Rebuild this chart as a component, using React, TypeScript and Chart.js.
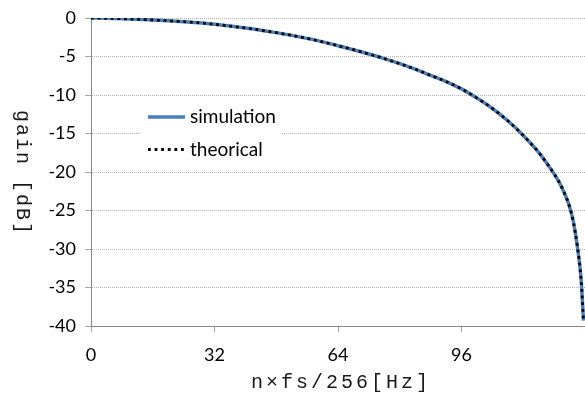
import React, { useEffect, useRef } from 'react';
import { Chart, registerables } from 'chart.js';

Chart.register(...registerables);

// n (×fs/256 Hz)
const nValues = [0, 4, 8, 12, 16, 20, 24, 28, 32, 36, 40, 44, 48, 52, 56, 60, 64, 68, 72, 76, 80, 84, 88, 92, 96, 100, 104, 108, 112, 116, 118, 120, 122, 124, 125, 126, 127, 127.6];
// gain [dB]
const simulationGain = [0, -0.03, -0.09, -0.17, -0.26, -0.36, -0.48, -0.63, -0.82, -1.05, -1.3, -1.58, -1.9, -2.26, -2.65, -3.1, -3.6, -4.12, -4.68, -5.28, -5.93, -6.65, -7.45, -8.25, -9.2, -10.4, -11.75, -13.35, -15.25, -17.45, -18.8, -20.25, -22.0, -24.5, -26.5, -29.6, -34.0, -39.3];
const theoricalGain = [0, -0.03, -0.09, -0.17, -0.26, -0.36, -0.48, -0.63, -0.82, -1.05, -1.3, -1.58, -1.9, -2.26, -2.65, -3.1, -3.6, -4.12, -4.68, -5.28, -5.93, -6.65, -7.45, -8.25, -9.2, -10.4, -11.75, -13.35, -15.25, -17.45, -18.8, -20.25, -22.0, -24.5, -26.5, -29.6, -34.0, -39.3];

const seriesNames = ['simulation', 'theorical'];
const xTickValues = [0, 32, 64, 96, 128];
const xAxisTitle = 'n×fs/256[Hz]';
const yAxisTitle = 'gain [dB]';

const TICK_FONT = { family: 'Lato', size: 18 };
const MONO = 'Liberation Mono';
const BLUE = '#4A7EBB';

const insideLegend = {
  id: 'insideLegend',
  afterDatasetsDraw(chart: any) {
    const ctx = chart.ctx;
    ctx.save();
    ctx.fillStyle = '#ffffff';
    ctx.fillRect(140, 100, 142, 66);
    const rows = [
      { y: 117, ds: chart.data.datasets[0] },
      { y: 149.5, ds: chart.data.datasets[1] },
    ];
    rows.forEach((r) => {
      ctx.save();
      ctx.strokeStyle = r.ds.borderColor;
      ctx.lineWidth = r.ds.borderWidth;
      ctx.setLineDash(r.ds.borderDash || []);
      ctx.beginPath();
      ctx.moveTo(148, r.y);
      ctx.lineTo(185, r.y);
      ctx.stroke();
      ctx.restore();
      ctx.fillStyle = '#000';
      ctx.font = '19px Lato';
      ctx.textBaseline = 'middle';
      ctx.textAlign = 'left';
      ctx.fillText(r.ds.label, 190, r.y);
    });
    ctx.restore();
  },
};

const axisTitles = {
  id: 'axisTitles',
  afterDraw(chart: any) {
    const ctx = chart.ctx;
    const area = chart.chartArea;
    ctx.save();
    ctx.fillStyle = '#1a1a1a';
    ctx.font = `20px "${MONO}"`;
    ctx.textBaseline = 'middle';
    ctx.textAlign = 'center';
    (ctx as any).letterSpacing = '3px';
    ctx.fillText(xAxisTitle, (area.left + area.right) / 2 + 3, 383);
    (ctx as any).letterSpacing = '2px';
    ctx.translate(22, (area.top + area.bottom) / 2);
    ctx.rotate(Math.PI / 2);
    ctx.fillText(yAxisTitle, 1, 0);
    ctx.restore();
  },
};

export default function App() {
  const ref = useRef<HTMLCanvasElement>(null);
  useEffect(() => {
    document.body.style.margin = '0';
    const simPts = nValues.map((x, i) => ({ x, y: simulationGain[i] }));
    const thPts = nValues.map((x, i) => ({ x, y: theoricalGain[i] }));
    const chart = new Chart(ref.current!, {
      type: 'line',
      data: {
        datasets: [
          {
            label: seriesNames[0],
            data: simPts,
            borderColor: BLUE,
            borderWidth: 3.5,
            pointRadius: 0,
            cubicInterpolationMode: 'monotone',
            order: 2,
          },
          {
            label: seriesNames[1],
            data: thPts,
            borderColor: '#000000',
            borderWidth: 2.8,
            borderDash: [2.8, 3.8],
            borderCapStyle: 'butt',
            pointRadius: 0,
            cubicInterpolationMode: 'monotone',
            order: 1,
          },
        ],
      },
      options: {
        animation: false,
        responsive: false,
        maintainAspectRatio: false,
        layout: { padding: { top: 18, right: 0, left: 0, bottom: 0 } },
        plugins: { legend: { display: false }, tooltip: { enabled: false } },
        scales: {
          x: {
            type: 'linear',
            min: 0,
            max: 128,
            afterBuildTicks: (s: any) => {
              s.ticks = xTickValues.map((v) => ({ value: v }));
            },
            afterFit: (s: any) => {
              s.height = 71;
              s.paddingLeft = 0;
              s.paddingRight = 0;
            },
            ticks: {
              font: TICK_FONT,
              color: '#000',
              padding: 12,
              maxRotation: 0,
              autoSkip: false,
              callback: (v: any) => (v === 128 ? '' : String(v)),
            },
            grid: {
              display: true,
              drawOnChartArea: false,
              drawTicks: true,
              tickLength: 6,
              tickColor: '#A6A6A6',
              tickWidth: 1,
            },
            border: { display: true, color: '#868686', width: 1 },
            title: { display: false },
          },
          y: {
            type: 'linear',
            min: -40,
            max: 0,
            ticks: { stepSize: 5, font: TICK_FONT, color: '#000', padding: 9 },
            afterFit: (s: any) => {
              s.width = 91;
              s.paddingTop = 0;
              s.paddingBottom = 0;
            },
            grid: {
              display: true,
              drawTicks: true,
              tickLength: 6,
              color: '#B4B4B4',
              lineWidth: 1,
              tickColor: '#A6A6A6',
            },
            border: { display: true, color: '#868686', width: 1, dash: [1, 1] },
            title: { display: false },
          },
        },
      },
      plugins: [insideLegend, axisTitles],
    } as any);
    return () => chart.destroy();
  }, []);
  return (
    <div style={{ position: 'relative', width: 585, height: 397 }}>
      <canvas ref={ref} width={585} height={397} style={{ display: 'block' }} />
    </div>
  );
}
